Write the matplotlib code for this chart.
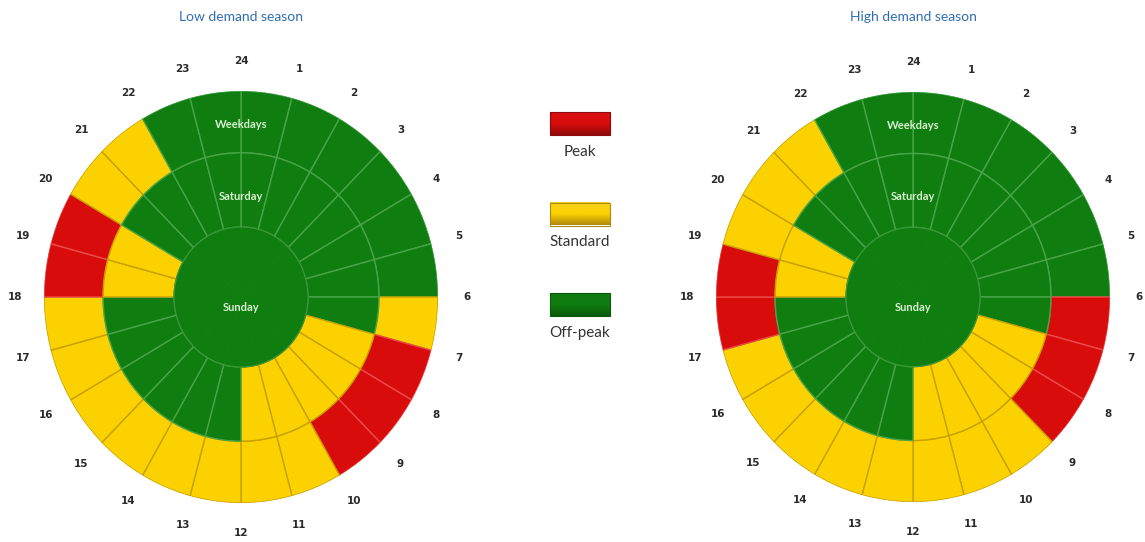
import numpy as np
import matplotlib
matplotlib.use("Agg")
import matplotlib.pyplot as plt
from matplotlib.patches import Rectangle
from matplotlib.colors import LinearSegmentedColormap

# Tariff period for each hour slot (slot i covers hour i -> i+1, slot 0 = 24 -> 1)
# P = peak, S = standard, O = off-peak
low_weekdays = list("OOOOOOSPPPSSSSSSSSPPSSOO")
low_saturday = list("OOOOOOOSSSSSOOOOOOSSOOOO")
low_sunday = list("O" * 24)

high_weekdays = list("OOOOOOPPPSSSSSSSSPPSSSOO")
high_saturday = list("OOOOOOOSSSSSOOOOOOSSOOOO")
high_sunday = list("O" * 24)

hour_labels = ["24"] + [str(h) for h in range(1, 24)]
day_names = ["Weekdays", "Saturday", "Sunday"]
season_titles = ["Low demand season", "High demand season"]
legend_keys = ["P", "S", "O"]
legend_names = ["Peak", "Standard", "Off-peak"]

face = {"P": "#d90c0c", "S": "#fbd200", "O": "#0f7d10"}
edge = {"P": "#ec4a4a", "S": "#c9a000", "O": "#47a447"}
legend_top = {"P": "#d81010", "S": "#f7d21c", "O": "#117a12"}
legend_bot = {"P": "#8e0a0a", "S": "#b08a10", "O": "#0b5a0c"}

# ring bounds (fraction of outer radius): Weekdays ring, Saturday ring, Sunday disk
ring_bounds = [(0.70, 1.00), (0.34, 0.70), (0.0, 0.34)]

W, H = 1145, 542
fig = plt.figure(figsize=(W / 100, H / 100), dpi=100)
fig.patch.set_facecolor("white")


def clock(rect, rings, title):
    ax = fig.add_axes(rect, projection="polar")
    ax.set_theta_zero_location("N")
    ax.set_theta_direction(-1)
    ax.set_aspect("auto")
    ax.set_ylim(0, 1)
    ax.set_axis_off()
    n = 24
    width = 2 * np.pi / n
    theta = np.arange(n) * width
    for periods, (r0, r1), name in zip(rings, ring_bounds, day_names):
        cols = [face[p] for p in periods]
        if name == "Sunday":
            ecols = cols
            lw = 0.6
        else:
            ecols = [edge[p] for p in periods]
            lw = 1.0
        ax.bar(theta, r1 - r0, width=width, bottom=r0, align="edge",
               color=cols, edgecolor=ecols, linewidth=lw)
    # inner disk outline
    t = np.linspace(0, 2 * np.pi, 200)
    ax.plot(t, np.full_like(t, 0.34), color="#3e9a3e", lw=0.8)
    # hour labels at slot boundaries
    for i, lab in enumerate(hour_labels):
        ax.text(theta[i], 1.145, lab, ha="center", va="center",
                fontsize=7.5, fontweight="bold", color="#2b2b2b",
                family="DejaVu Sans")
    txt = dict(ha="center", va="center", color="#d8f0d0", fontsize=8,
               fontweight="bold", family="Lato")
    ax.text(0, 0.835, "Weekdays", **txt)
    ax.text(0, 0.49, "Saturday", **txt)
    ax.text(np.pi, 0.05, "Sunday", **txt)
    cx = rect[0] + rect[2] / 2
    fig.text(cx, 1 - 17 / H, title, ha="center", va="center",
             fontsize=10, color="#2f6db5", family="Lato")


clock([44 / W, 39 / H, 394 / W, 412 / H],
      [low_weekdays, low_saturday, low_sunday], season_titles[0])
clock([716 / W, 40 / H, 394 / W, 410 / H],
      [high_weekdays, high_saturday, high_sunday], season_titles[1])

# legend in the centre column, pixel coordinates
lax = fig.add_axes([0, 0, 1, 1], facecolor="none")
lax.set_axis_off()
grad = np.linspace(0, 1, 32)[:, None]
for k, (key, name) in enumerate(zip(legend_keys, legend_names)):
    y0 = 112 + k * 90.5
    cmap = LinearSegmentedColormap.from_list(
        key, [legend_top[key], face[key], legend_bot[key]])
    lax.imshow(grad, extent=(550, 610, y0 + 23, y0), cmap=cmap,
               aspect="auto", interpolation="bilinear", zorder=2)
    lax.add_patch(Rectangle((550, y0), 60, 23, fill=False,
                            edgecolor=legend_bot[key], lw=0.8, zorder=3))
    lax.text(580, y0 + 40, name, ha="center", va="center", fontsize=11,
             color="#333333", family="Lato")
lax.set_xlim(0, W)
lax.set_ylim(H, 0)

fig.savefig("out.png", dpi=100, facecolor="white")
